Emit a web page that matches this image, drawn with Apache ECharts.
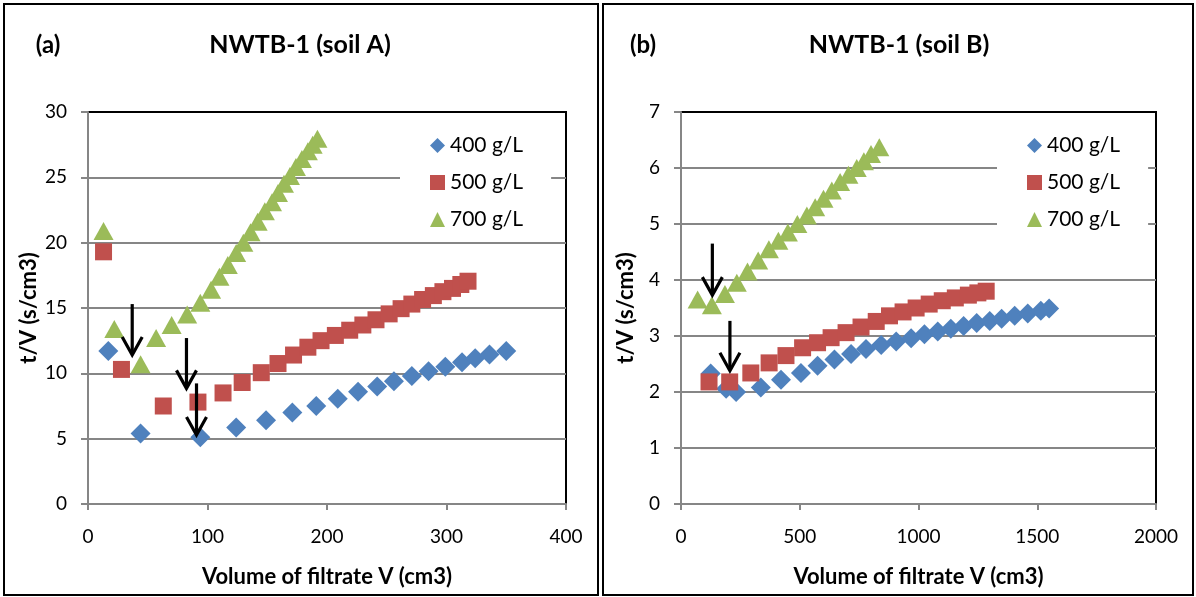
<!DOCTYPE html>
<html>
<head>
<meta charset="utf-8">
<script src="https://cdn.jsdelivr.net/npm/echarts@6/dist/echarts.min.js"></script>
<style>
html,body{margin:0;padding:0;background:#fff;}
#c{width:1196px;height:597px;}
</style>
</head>
<body>
<div id="c"></div>
<script>
// ---------- data ----------
const seriesNames = ['400 g/L', '500 g/L', '700 g/L'];

// Panel (a) soil A
const a400x = [17, 44, 94, 124, 149, 171, 191, 209, 226, 242, 256, 271, 285, 299, 313, 324, 336, 350];
const a400y = [11.7, 5.4, 5.1, 5.85, 6.4, 7.0, 7.5, 8.05, 8.6, 9.0, 9.4, 9.8, 10.15, 10.5, 10.85, 11.15, 11.45, 11.7];
const a500x = [13, 28, 63, 92, 113, 129, 145, 159, 172, 184, 195, 207, 219, 230, 241, 252, 262, 271, 280, 289, 297, 305, 312, 318];
const a500y = [19.3, 10.3, 7.5, 7.8, 8.5, 9.3, 10.05, 10.75, 11.4, 12.0, 12.5, 12.9, 13.3, 13.7, 14.1, 14.55, 14.95, 15.3, 15.65, 15.95, 16.25, 16.5, 16.8, 17.05];
const a700x = [13, 22, 44, 57, 70, 83, 94, 103, 110, 117, 124, 130, 136, 142, 148, 154, 159, 164, 169, 174, 179, 184, 188, 192];
const a700y = [20.9, 13.4, 10.7, 12.7, 13.7, 14.5, 15.4, 16.4, 17.4, 18.3, 19.2, 20.0, 20.8, 21.6, 22.4, 23.1, 23.8, 24.5, 25.1, 25.8, 26.4, 27.0, 27.5, 27.95];
// arrows: [x, yStart, yTip]
const arrowsA = [[37, 15.3, 11.4], [82.4, 12.7, 8.85], [90.8, 9.23, 5.28]];

// Panel (b) soil B
const b400x = [125, 190, 232, 336, 421, 505, 575, 646, 716, 779, 843, 906, 969, 1025, 1081, 1136, 1190, 1245, 1300, 1350, 1405, 1460, 1515, 1550];
const b400y = [2.33, 2.06, 2.0, 2.08, 2.22, 2.34, 2.47, 2.58, 2.68, 2.77, 2.84, 2.9, 2.96, 3.03, 3.08, 3.13, 3.18, 3.23, 3.27, 3.31, 3.36, 3.40, 3.45, 3.49];
const b500x = [118, 205, 294, 371, 442, 512, 575, 632, 695, 758, 822, 878, 935, 990, 1045, 1100, 1155, 1210, 1250, 1285];
const b500y = [2.18, 2.18, 2.34, 2.52, 2.65, 2.79, 2.88, 2.97, 3.06, 3.16, 3.26, 3.36, 3.43, 3.5, 3.57, 3.63, 3.68, 3.73, 3.77, 3.8];
const b700x = [70, 130, 185, 235, 280, 325, 370, 410, 450, 490, 530, 565, 600, 635, 670, 705, 740, 770, 800, 835];
const b700y = [3.65, 3.55, 3.75, 3.95, 4.15, 4.35, 4.55, 4.7, 4.85, 5.0, 5.15, 5.3, 5.45, 5.6, 5.75, 5.88, 6.0, 6.12, 6.25, 6.37];
const arrowsB = [[132, 4.65, 3.73], [206, 3.27, 2.38]];

const titleA = 'NWTB-1 (soil A)';
const titleB = 'NWTB-1 (soil B)';
const tagA = '(a)';
const tagB = '(b)';
const xName = 'Volume of filtrate V (cm3)';
const yName = 't/V (s/cm3)';

// ---------- styling ----------
const FONT = 'Lato, "Open Sans", sans-serif';
const colors = ['#4F81BD', '#C0504D', '#9BBB59'];
const symbols = ['diamond', 'rect', 'triangle'];
const symSizes = [20, 17, [20, 18]];
const gridGray = '#868686';

function zip(xs, ys) { return xs.map((x, i) => [x, ys[i]]); }

function scatter(name, idx, xs, ys, gi) {
  return {
    type: 'scatter', name: name, xAxisIndex: gi, yAxisIndex: gi,
    data: zip(xs, ys), symbol: symbols[idx], symbolSize: symSizes[idx],
    itemStyle: { color: colors[idx], opacity: 1 }, z: 3 + idx,
    emphasis: { disabled: true }, animation: false
  };
}

function arrowSeries(arr, gi) {
  return {
    type: 'custom', xAxisIndex: gi, yAxisIndex: gi, z: 20, animation: false,
    data: arr, encode: { x: 0, y: [1, 2] }, silent: true,
    renderItem: function (params, api) {
      const p0 = api.coord([api.value(0), api.value(1)]);
      const p1 = api.coord([api.value(0), api.value(2)]);
      return {
        type: 'group', children: [
          { type: 'line', shape: { x1: p0[0], y1: p0[1], x2: p1[0], y2: p1[1] - 1 },
            style: { stroke: '#000', lineWidth: 3.2 } },
          { type: 'polyline', shape: { points: [[p1[0] - 10, p1[1] - 18], [p1[0], p1[1]], [p1[0] + 10, p1[1] - 18]] },
            style: { stroke: '#000', lineWidth: 3.2, fill: null, lineJoin: 'miter' } }
        ]
      };
    }
  };
}

function xAxisCfg(gi, max, interval) {
  return {
    type: 'value', gridIndex: gi, min: 0, max: max, interval: interval,
    name: xName, nameLocation: 'middle', nameGap: 62,
    nameTextStyle: { fontFamily: FONT, fontSize: 22, fontWeight: 'bold', color: '#000' },
    axisLine: { show: true, onZero: false, lineStyle: { color: gridGray, width: 2 } },
    axisTick: { show: true, inside: false, length: 6, lineStyle: { color: gridGray, width: 2 } },
    axisLabel: { margin: 23, fontFamily: FONT, fontSize: 19, color: '#000', formatter: v => String(v) },
    splitLine: { show: false }
  };
}
function yAxisCfg(gi, max, interval, gap) {
  return {
    type: 'value', gridIndex: gi, min: 0, max: max, interval: interval,
    name: yName, nameLocation: 'middle', nameGap: gap,
    nameTextStyle: { fontFamily: FONT, fontSize: 22, fontWeight: 'bold', color: '#000' },
    axisLine: { show: true, onZero: false, lineStyle: { color: gridGray, width: 2 } },
    axisTick: { show: true, inside: false, length: 7, lineStyle: { color: gridGray, width: 2 } },
    axisLabel: { margin: 21, fontFamily: FONT, fontSize: 19, color: '#000', formatter: v => String(v) },
    splitLine: { show: true, showMaxLine: false, lineStyle: { color: gridGray, width: 2 } }
  };
}
function legendCfg(left) {
  return {
    orient: 'vertical', left: left, top: 121, backgroundColor: '#fff',
    padding: [14, 28, 10, 30], itemWidth: 15, itemHeight: 15, itemGap: 16,
    selectedMode: false,
    textStyle: { fontFamily: FONT, fontSize: 21, color: '#000' },
    data: seriesNames.map((n, i) => ({ name: n, icon: symbols[i] }))
  };
}

const chart = echarts.init(document.getElementById('c'), null, { renderer: 'canvas' });
chart.setOption({
  animation: false,
  backgroundColor: '#fff',
  grid: [
    { left: 88, top: 112, width: 478, height: 392, show: true, borderColor: '#000', borderWidth: 2, backgroundColor: 'transparent' },
    { left: 681, top: 112, width: 475, height: 392, show: true, borderColor: '#000', borderWidth: 2, backgroundColor: 'transparent' }
  ],
  xAxis: [xAxisCfg(0, 400, 100), xAxisCfg(1, 2000, 500)],
  yAxis: [yAxisCfg(0, 30, 5, 48), yAxisCfg(1, 7, 1, 44)],
  legend: [legendCfg(400), legendCfg(997)],
  series: [
    scatter(seriesNames[0], 0, a400x, a400y, 0),
    scatter(seriesNames[1], 1, a500x, a500y, 0),
    scatter(seriesNames[2], 2, a700x, a700y, 0),
    scatter(seriesNames[0], 0, b400x, b400y, 1),
    scatter(seriesNames[1], 1, b500x, b500y, 1),
    scatter(seriesNames[2], 2, b700x, b700y, 1),
    arrowSeries(arrowsA, 0),
    arrowSeries(arrowsB, 1)
  ],
  graphic: [
    { type: 'rect', shape: { x: 4, y: 4, width: 594, height: 591 }, style: { fill: null, stroke: '#000', lineWidth: 2 }, z: 50, silent: true },
    { type: 'rect', shape: { x: 603, y: 4, width: 590, height: 591 }, style: { fill: null, stroke: '#000', lineWidth: 2 }, z: 50, silent: true },
    { type: 'text', x: 48, y: 45, style: { text: tagA, font: 'bold 24px ' + FONT, fill: '#000', align: 'center', verticalAlign: 'middle' }, z: 50 },
    { type: 'text', x: 300, y: 45, style: { text: titleA, font: 'bold 25px ' + FONT, fill: '#000', align: 'center', verticalAlign: 'middle' }, z: 50 },
    { type: 'text', x: 643, y: 45, style: { text: tagB, font: 'bold 24px ' + FONT, fill: '#000', align: 'center', verticalAlign: 'middle' }, z: 50 },
    { type: 'text', x: 899, y: 45, style: { text: titleB, font: 'bold 25px ' + FONT, fill: '#000', align: 'center', verticalAlign: 'middle' }, z: 50 }
  ]
});
</script>
</body>
</html>
